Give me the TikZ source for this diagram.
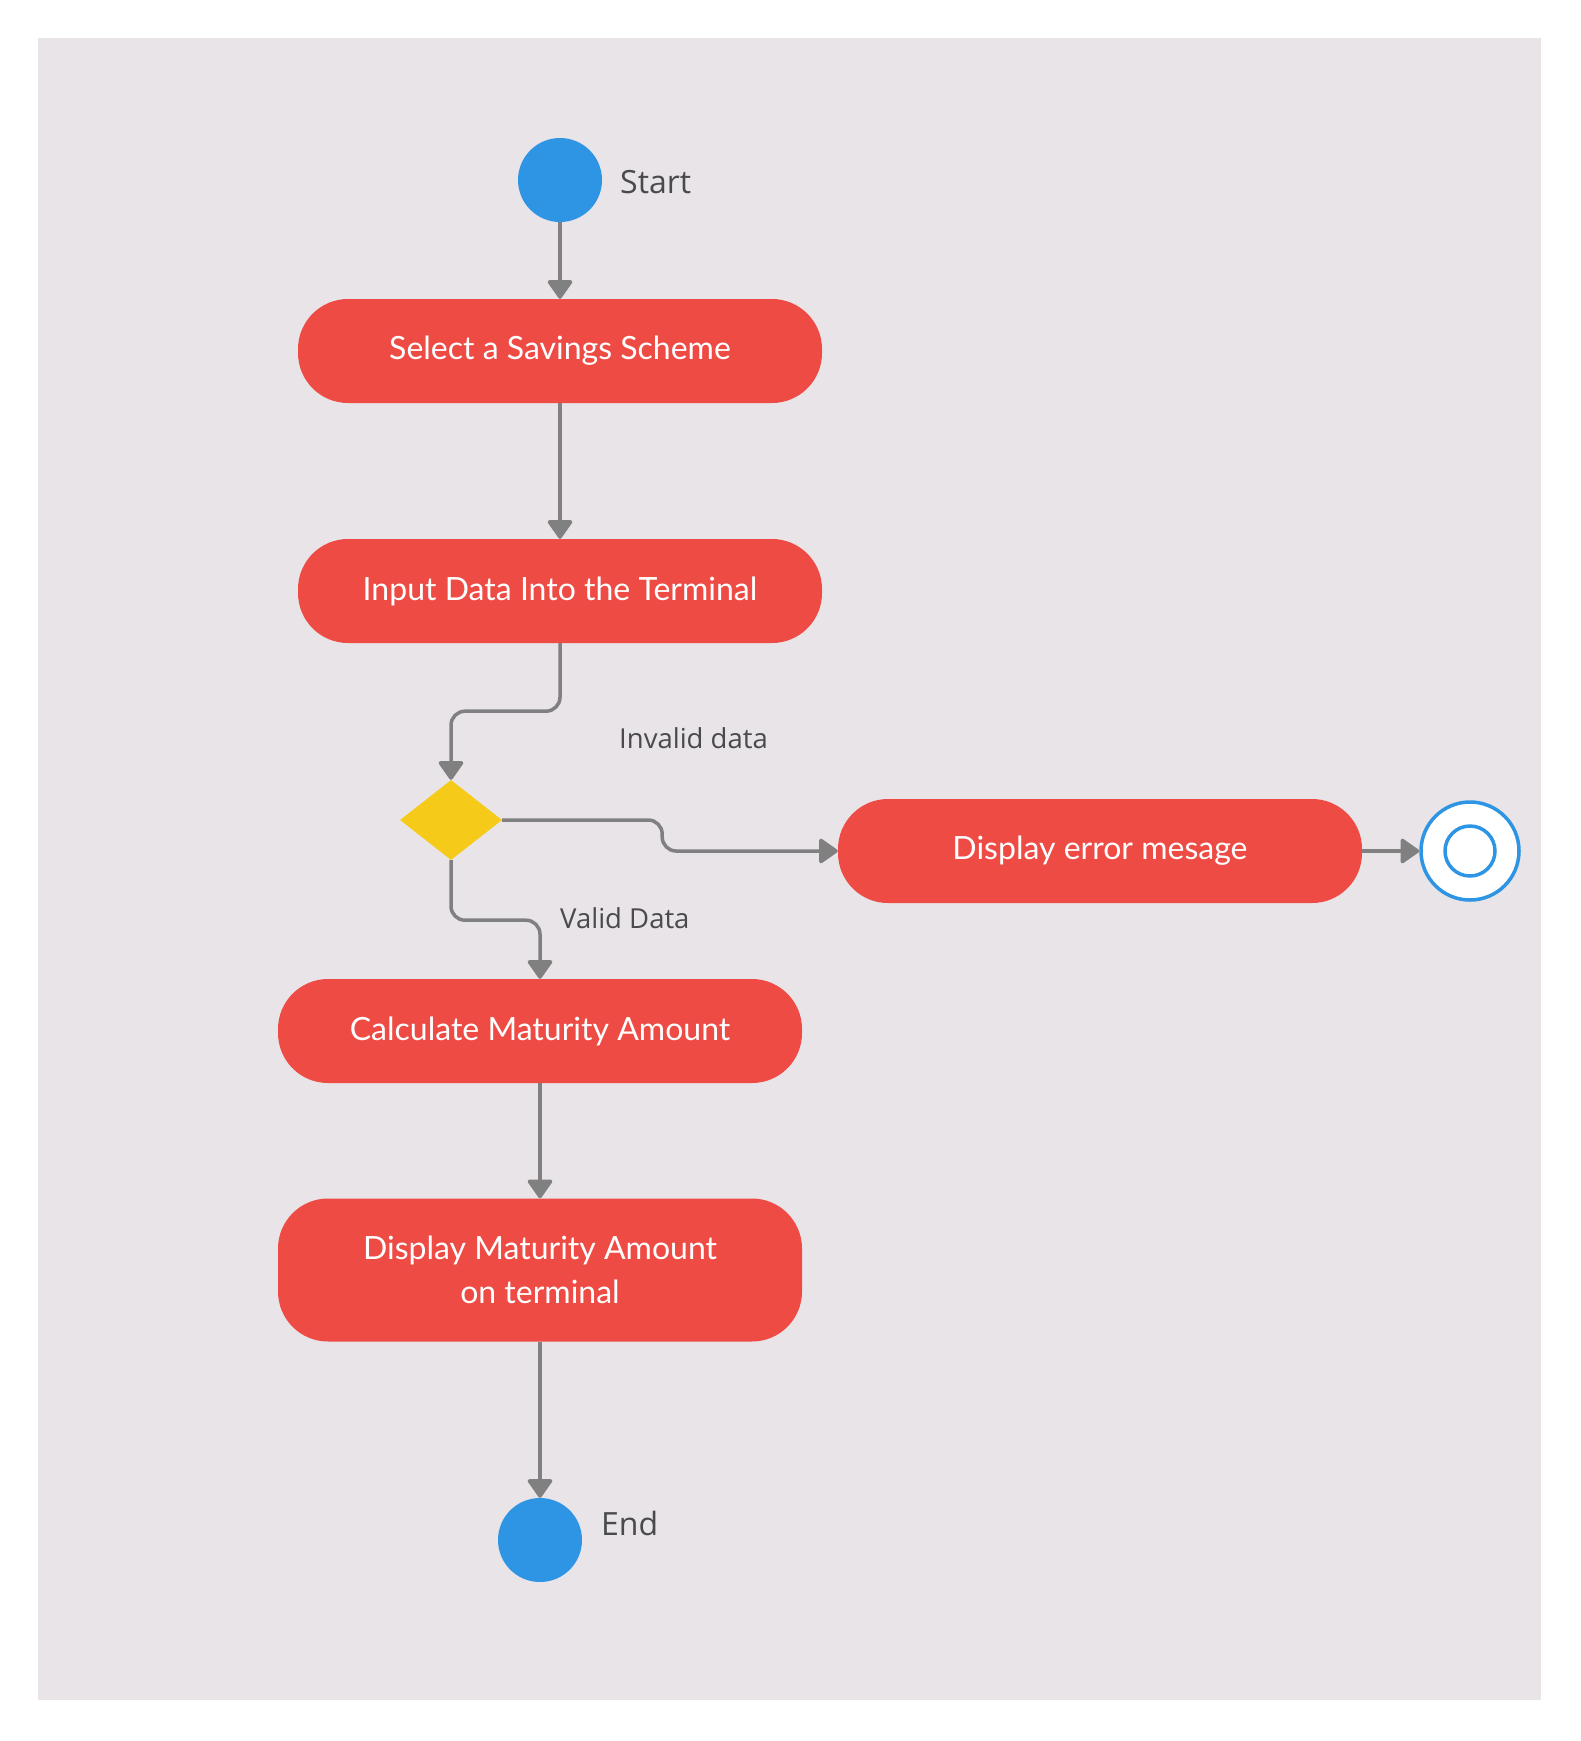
\documentclass[tikz,border=0pt]{standalone}
\usepackage{fontspec}
\setmainfont{Lato}
\newfontfamily\labelfont{Open Sans}
\usetikzlibrary{arrows.meta,shapes.geometric}
\definecolor{bgc}{HTML}{E8E4E8}
\definecolor{redc}{HTML}{EE4B45}
\definecolor{bluec}{HTML}{2D95E3}
\definecolor{yellowc}{HTML}{F6CA18}
\definecolor{grayc}{HTML}{808080}
\definecolor{txtc}{HTML}{4A4A4A}
\tikzset{
  actbox/.style={draw=none, fill=redc, rounded corners=50pt, minimum width=524pt, minimum height=104pt,
    text=white, font=\fontsize{32}{43.5}\selectfont, align=center, inner sep=0pt},
  dot/.style={circle, fill=bluec, minimum size=84pt, inner sep=0pt},
  lbl/.style={text=txtc, inner sep=0pt, anchor=west},
  conn/.style={draw=grayc, line width=3.5pt, rounded corners=14pt,
    -{Triangle[width=27pt,length=20pt,round]}},
}
\begin{document}
\begin{tikzpicture}[x=1pt,y=-1pt]
\useasboundingbox (0,0) rectangle (1581,1741);
\fill[white] (0,0) rectangle (1581,1741);
\fill[bgc] (38,38) rectangle (1541,1700);

\node[dot] (start) at (560,180) {};
\node[lbl, font=\labelfont\fontsize{32}{38}\selectfont] (startlbl) at (620,182) {Start};

\node[actbox] (sel) at (560,351) {Select a Savings Scheme};
\node[actbox] (inp) at (560,591) {Input Data Into the Terminal};

\node[diamond, fill=yellowc, minimum width=102pt, minimum height=80pt, inner sep=0pt] (dia) at (451,820) {};

\node[lbl, font=\labelfont\fontsize{27.5}{32}\selectfont] (inv) at (619,738) {Invalid data};
\node[actbox] (err) at (1100,851) {Display error mesage};
\node[circle, draw=bluec, line width=3.5pt, fill=white, minimum size=98pt, inner sep=0pt] (fin) at (1470,851) {};
\node[circle, draw=bluec, line width=3.5pt, minimum size=50pt, inner sep=0pt] (finin) at (fin.center) {};

\node[lbl, font=\labelfont\fontsize{27.5}{32}\selectfont] (val) at (560,918) {Valid Data};
\node[actbox] (calc) at (540,1031) {Calculate Maturity Amount};
\node[actbox, minimum height=143pt] (disp) at (540,1270) {Display Maturity Amount\\on terminal};

\node[dot] (end) at (540,1540) {};
\node[lbl, font=\labelfont\fontsize{32}{38}\selectfont] (endlbl) at (601,1523) {End};

\draw[conn] (start) -- (sel.north);
\draw[conn] (sel.south) -- (inp.north);
\draw[conn] (inp.south) -- ++(0,68) -| (dia.north);
\draw[conn] (dia.east) -- ++(160,0) |- (err.west);
\draw[conn] (err.east) -- (fin.west);
\draw[conn] (dia.south) -- ++(0,60) -| (calc.north);
\draw[conn] (calc.south) -- (disp.north);
\draw[conn] (disp.south) -- (end.north);
\end{tikzpicture}
\end{document}
